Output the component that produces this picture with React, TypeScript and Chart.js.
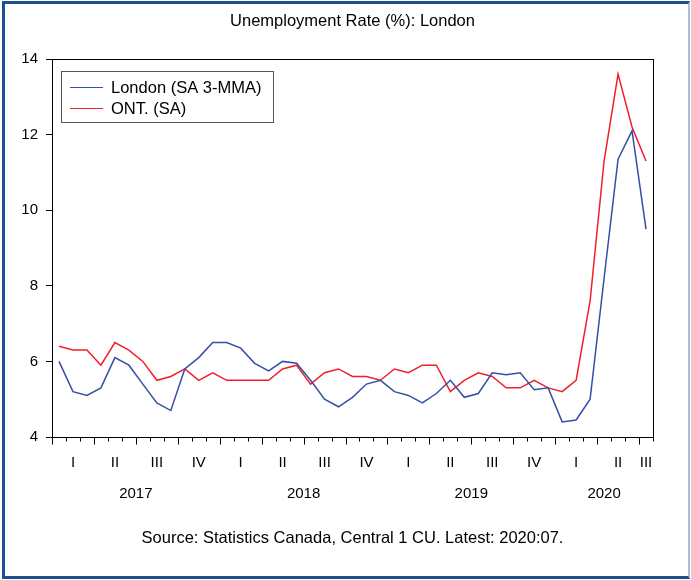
import React, { useEffect, useRef } from 'react';
import { Chart, registerables } from 'chart.js';

Chart.register(...registerables);

const months = [
  '2017:01', '2017:02', '2017:03', '2017:04', '2017:05', '2017:06', '2017:07', '2017:08', '2017:09', '2017:10', '2017:11', '2017:12',
  '2018:01', '2018:02', '2018:03', '2018:04', '2018:05', '2018:06', '2018:07', '2018:08', '2018:09', '2018:10', '2018:11', '2018:12',
  '2019:01', '2019:02', '2019:03', '2019:04', '2019:05', '2019:06', '2019:07', '2019:08', '2019:09', '2019:10', '2019:11', '2019:12',
  '2020:01', '2020:02', '2020:03', '2020:04', '2020:05', '2020:06', '2020:07',
];

const london = [
  6.0, 5.2, 5.1, 5.3, 6.1, 5.9, 5.4, 4.9, 4.7, 5.8, 6.1, 6.5,
  6.5, 6.35, 5.95, 5.75, 6.0, 5.95, 5.5, 5.0, 4.8, 5.05, 5.4, 5.5,
  5.2, 5.1, 4.9, 5.15, 5.5, 5.05, 5.15, 5.7, 5.65, 5.7, 5.25, 5.3,
  4.4, 4.45, 5.0, 8.2, 11.35, 12.1, 9.5,
];

const ontario = [
  6.4, 6.3, 6.3, 5.9, 6.5, 6.3, 6.0, 5.5, 5.6, 5.8, 5.5, 5.7,
  5.5, 5.5, 5.5, 5.5, 5.8, 5.9, 5.4, 5.7, 5.8, 5.6, 5.6, 5.5,
  5.8, 5.7, 5.9, 5.9, 5.2, 5.5, 5.7, 5.6, 5.3, 5.3, 5.5, 5.3,
  5.2, 5.5, 7.6, 11.3, 13.6, 12.2, 11.3,
];

const seriesNames = ['London (SA 3-MMA)', 'ONT. (SA)'];
const quarterNames = ['I', 'II', 'III', 'IV'];
const yearLabels = ['2017', '2018', '2019', '2020'];
const yMin = 4;
const yMax = 14;
const yStep = 2;
const titleText = 'Unemployment Rate (%): London';
const sourceText = 'Source: Statistics Canada, Central 1 CU. Latest: 2020:07.';

const FONT = "'Liberation Sans', Arial, Helvetica, sans-serif";
const BLUE = '#3350a6';
const RED = '#f01f2b';

function yearCenter(year: string): number {
  const idx = months.map((m, i) => (m.startsWith(year) ? i : -1)).filter((i) => i >= 0);
  return (idx[0] + idx[idx.length - 1]) / 2;
}

const decorPlugin = {
  id: 'decor',
  afterDraw(chart: any) {
    const { ctx, chartArea: ca } = chart;
    const xs = chart.scales.x;
    ctx.save();
    // plot frame
    ctx.strokeStyle = '#000';
    ctx.lineWidth = 1;
    const l = Math.round(ca.left) + 0.5;
    const t = Math.round(ca.top) + 0.5;
    const r = Math.round(ca.right) + 0.5;
    const b = Math.round(ca.bottom) + 0.5;
    ctx.strokeRect(l, t, r - l, b - t);
    // x tick marks at month boundaries
    ctx.beginPath();
    for (let i = 0; i <= months.length; i++) {
      const px = Math.round(xs.getPixelForValue(i - 0.5)) + 0.5;
      const len = i % 3 === 0 && i < months.length ? 7 : 4;
      ctx.moveTo(px, b);
      ctx.lineTo(px, b + len);
    }
    ctx.stroke();
    // legend
    const lx = Math.round(ca.left) + 9;
    const ly = Math.round(ca.top) + 12;
    const lw = 212;
    const lh = 51;
    ctx.fillStyle = '#fff';
    ctx.fillRect(lx, ly, lw, lh);
    ctx.strokeStyle = '#555';
    ctx.strokeRect(lx + 0.5, ly + 0.5, lw, lh);
    ctx.font = `16.5px ${FONT}`;
    ctx.textBaseline = 'middle';
    ctx.textAlign = 'left';
    chart.data.datasets.forEach((ds: any, k: number) => {
      const cy = ly + 16 + k * 21;
      ctx.strokeStyle = ds.borderColor;
      ctx.lineWidth = 1.2;
      ctx.beginPath();
      ctx.moveTo(lx + 9, cy + 0.5);
      ctx.lineTo(lx + 42, cy + 0.5);
      ctx.stroke();
      ctx.fillStyle = '#000';
      ctx.fillText(ds.label, lx + 50, cy + 1);
    });
    ctx.restore();
  },
};

export default function App() {
  const ref = useRef<HTMLCanvasElement | null>(null);

  useEffect(() => {
    if (!ref.current) return;
    const chart = new Chart(ref.current, {
      type: 'line',
      data: {
        labels: months,
        datasets: [
          {
            label: seriesNames[0],
            data: london,
            borderColor: BLUE,
            borderWidth: 1.5,
            pointRadius: 0,
            tension: 0,
            fill: false,
          },
          {
            label: seriesNames[1],
            data: ontario,
            borderColor: RED,
            borderWidth: 1.5,
            pointRadius: 0,
            tension: 0,
            fill: false,
          },
        ],
      },
      options: {
        animation: false,
        responsive: false,
        devicePixelRatio: 1,
        layout: { padding: { left: 0, right: 38, top: 0, bottom: 0 } },
        plugins: {
          legend: { display: false },
          tooltip: { enabled: false },
          title: {
            display: true,
            text: titleText,
            fullSize: false,
            color: '#000',
            font: { family: FONT, size: 16.5, weight: 'normal' },
            padding: { top: 11.5, bottom: 27.7 },
          },
          subtitle: {
            display: true,
            text: sourceText,
            position: 'bottom',
            fullSize: false,
            color: '#000',
            font: { family: FONT, size: 16.5, weight: 'normal' },
            padding: { top: 21.1, bottom: 32.1 },
          },
        },
        scales: {
          x: {
            type: 'category',
            position: 'bottom',
            offset: true,
            weight: 0,
            grid: { display: false, drawTicks: false, tickLength: 0 },
            border: { display: false },
            ticks: {
              autoSkip: false,
              maxRotation: 0,
              minRotation: 0,
              padding: 17,
              color: '#000',
              font: { family: FONT, size: 15 },
              callback: (_v: any, index: number) => {
                const q = Math.floor(index / 3);
                const first = q * 3;
                const last = Math.min(first + 2, months.length - 1);
                return (first + last) / 2 === index ? quarterNames[q % 4] : '';
              },
            },
            afterFit: (s: any) => {
              s.height = 40;
            },
          },
          x2: {
            type: 'linear',
            position: 'bottom',
            weight: 1,
            min: -0.5,
            max: months.length - 0.5,
            grid: { display: false, drawTicks: false, tickLength: 0 },
            border: { display: false },
            afterBuildTicks: (s: any) => {
              s.ticks = yearLabels.map((y) => ({ value: yearCenter(y) }));
            },
            ticks: {
              autoSkip: false,
              maxRotation: 0,
              minRotation: 0,
              padding: 8,
              color: '#000',
              font: { family: FONT, size: 15 },
              callback: (_v: any, index: number) => yearLabels[index],
            },
            afterFit: (s: any) => {
              s.height = 30;
            },
          },
          y: {
            type: 'linear',
            position: 'left',
            min: yMin,
            max: yMax,
            grid: {
              display: true,
              drawOnChartArea: false,
              drawTicks: true,
              tickLength: 6,
              color: '#000',
              lineWidth: 1,
            },
            border: { display: false },
            ticks: {
              stepSize: yStep,
              padding: 8,
              color: '#000',
              font: { family: FONT, size: 15 },
            },
            afterFit: (s: any) => {
              s.width = 52;
            },
          },
        },
      },
      plugins: [decorPlugin],
    } as any);
    return () => chart.destroy();
  }, []);

  return (
    <div style={{ position: 'absolute', left: 0, top: 0, width: 691, height: 580, background: '#fff' }}>
      <canvas ref={ref} width={691} height={580} style={{ display: 'block', width: 691, height: 580 }} />
      <div
        style={{
          position: 'absolute',
          left: 2,
          top: 1,
          width: 688,
          height: 578,
          boxSizing: 'border-box',
          borderLeft: '3px solid #1d4f8b',
          borderTop: '3px solid #1d4f8b',
          borderBottom: '3px solid #1d4f8b',
          borderRight: '2px solid #a7c0dc',
          pointerEvents: 'none',
        }}
      />
    </div>
  );
}
